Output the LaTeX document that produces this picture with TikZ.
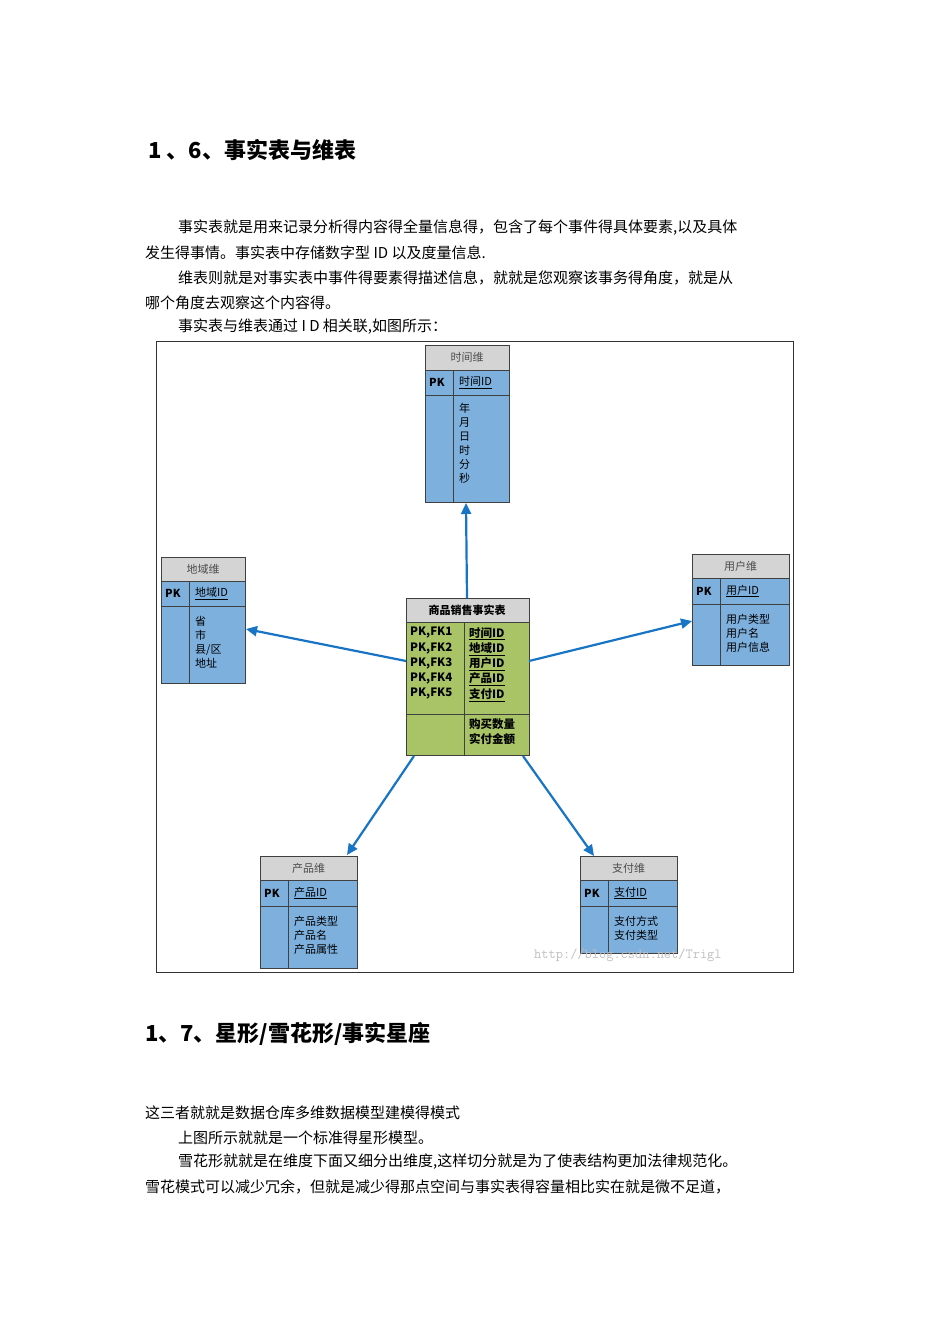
\documentclass[tikz,border=0pt]{standalone}
\usepackage{fontspec}
\setmainfont{Noto Sans CJK SC}
\newfontfamily\cjkb[BoldFont={Noto Sans CJK SC Bold}]{Noto Sans CJK SC}
\usetikzlibrary{arrows.meta}
\definecolor{tblue}{HTML}{7EB0DE}
\definecolor{tgreen}{HTML}{A9C466}
\definecolor{thead}{HTML}{D4D4D4}
\definecolor{arr}{HTML}{1874C4}
\tikzset{
  txt/.style={anchor=west,inner sep=0pt,font=\fontsize{15}{18}\selectfont},
  cell/.style={draw=black!75,line width=0.8pt},
  small/.style={inner sep=0pt,font=\fontsize{11}{14}\selectfont},
  link/.style={draw=arr,line width=2.2pt,-{Triangle[length=11pt,width=10pt]}}
}
% #1 x0, #2 x1, #3 divider, #4 y header top, #5 y pk top, #6 y body top, #7 y bottom, #8 title, #9 pk name
\newcommand{\dimtab}[9]{
  \fill[thead] (#1,#4) rectangle (#2,#5);
  \fill[tblue] (#1,#5) rectangle (#2,#7);
  \draw[cell] (#1,#4) rectangle (#2,#7);
  \draw[cell] (#1,#5) -- (#2,#5) (#1,#6) -- (#2,#6) (#3,#5) -- (#3,#7);
  \node[small,text=black!70] at ({(#1+#2)/2},{(#4+#5)/2}) {#8};
  \node[small,anchor=west,font=\fontsize{11}{14}\selectfont\bfseries] at (#1+4,{(#5+#6)/2}) {PK};
  \node[small,anchor=west] at (#3+6,{(#5+#6)/2}) {\underline{#9}};
}
\begin{document}
\begin{tikzpicture}[x=1pt,y=-1pt]
\useasboundingbox (0,0) rectangle (950,1344);
\fill[white] (0,0) rectangle (950,1344);
\node[txt,font=\fontsize{22}{26}\selectfont\bfseries] (t1) at (148,150) {1 、6、事实表与维表};
\node[txt] (p1) at (178,228) {事实表就是用来记录分析得内容得全量信息得，包含了每个事件得具体要素,以及具体};
\node[txt] (p2) at (145,253) {发生得事情。事实表中存储数字型 ID 以及度量信息.};
\node[txt] (p3) at (178,278) {维表则就是对事实表中事件得要素得描述信息，就就是您观察该事务得角度，就是从};
\node[txt] (p4) at (145,303) {哪个角度去观察这个内容得。};
\node[txt] (p5) at (178,327) {事实表与维表通过 I D 相关联,如图所示：};

\draw[black!80,line width=0.8pt] (156,341) rectangle (793,972);

% time
\dimtab{425}{509}{453}{345}{370}{395}{502}{时间维}{时间ID}
\node[small,anchor=north west,align=left] at (459,403) {年\\月\\日\\时\\分\\秒};
% region
\dimtab{161}{245}{189}{557}{581}{606}{683}{地域维}{地域ID}
\node[small,anchor=north west,align=left] at (195,616) {省\\市\\县/区\\地址};
% user
\dimtab{692}{789}{720}{554}{578}{604}{665}{用户维}{用户ID}
\node[small,anchor=north west,align=left] at (726,614) {用户类型\\用户名\\用户信息};
% product
\dimtab{260}{357}{288}{856}{880}{906}{968}{产品维}{产品ID}
\node[small,anchor=north west,align=left] at (294,916) {产品类型\\产品名\\产品属性};
% payment
\dimtab{580}{677}{608}{856}{880}{906}{953}{支付维}{支付ID}
\node[small,anchor=north west,align=left] at (614,916) {支付方式\\支付类型};

% fact
\fill[thead] (406,598) rectangle (529,622);
\fill[tgreen] (406,622) rectangle (529,755);
\draw[cell] (406,598) rectangle (529,755);
\draw[cell] (406,622) -- (529,622) (406,714) -- (529,714) (464,622) -- (464,755);
\node[small,font=\fontsize{11}{14}\selectfont\bfseries] at (467,610) {商品销售事实表};
\node[small,anchor=north west,align=left,font=\fontsize{11.5}{15.3}\selectfont\bfseries] at (410,627) {PK,FK1\\PK,FK2\\PK,FK3\\PK,FK4\\PK,FK5};
\node[small,anchor=north west,align=left,font=\fontsize{11.5}{15.3}\selectfont\bfseries] at (469,627) {\underline{时间ID}\\\underline{地域ID}\\\underline{用户ID}\\\underline{产品ID}\\\underline{支付ID}};
\node[small,anchor=north west,align=left,font=\fontsize{11.5}{15.3}\selectfont\bfseries] at (469,718) {购买数量\\实付金额};

\coordinate (fT) at (467,598); \coordinate (tB) at (466,503);
\coordinate (fL) at (406,661); \coordinate (rR) at (246,629);
\coordinate (fR) at (529,661); \coordinate (uL) at (692,621);
\coordinate (fBL) at (414,756); \coordinate (pT) at (347,855);
\coordinate (fBR) at (523,756); \coordinate (zT) at (594,856);
\draw[link] (fT) -- (tB);
\draw[link] (fL) -- (rR);
\draw[link] (fR) -- (uL);
\draw[link] (fBL) -- (pT);
\draw[link] (fBR) -- (zT);

\node[txt,font=\fontsize{14}{16}\ttfamily,text=black!25] (wm) at (534,955) {http://blog.csdn.net/Trigl};

\node[txt,font=\fontsize{22}{26}\selectfont\bfseries] (t2) at (145,1034) {1、7、星形/雪花形/事实星座};
\node[txt] (q1) at (145,1113) {这三者就就是数据仓库多维数据模型建模得模式};
\node[txt] (q2) at (178,1138) {上图所示就就是一个标准得星形模型。};
\node[txt] (q3) at (178,1162) {雪花形就就是在维度下面又细分出维度,这样切分就是为了使表结构更加法律规范化。};
\node[txt] (q4) at (145,1187) {雪花模式可以减少冗余，但就是减少得那点空间与事实表得容量相比实在就是微不足道，};
\end{tikzpicture}
\end{document}
